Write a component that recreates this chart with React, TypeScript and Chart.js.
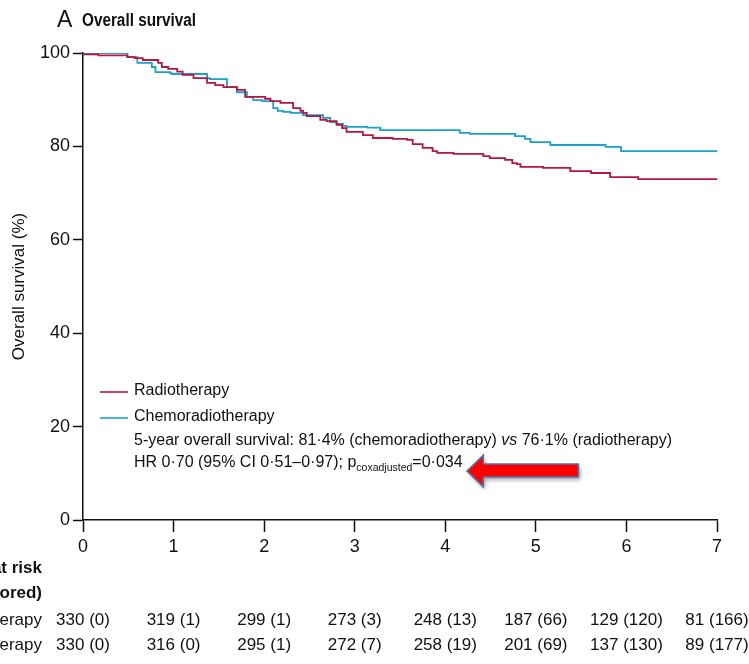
import React, { useEffect, useRef } from "react";
import { Chart, registerables } from "chart.js";

Chart.register(...registerables);

const FONT = "'Liberation Sans Narrow', 'Liberation Sans', Arial, sans-serif";

// Kaplan-Meier step data (years, % surviving)
const radTime = [0, 0.17, 0.49, 0.57, 0.66, 0.83, 0.87, 0.94, 1.04, 1.1, 1.22, 1.37, 1.46, 1.55, 1.7, 1.79, 2.01, 2.07, 2.18, 2.32, 2.4, 2.43, 2.47, 2.62, 2.69, 2.8, 2.86, 2.91, 3.09, 3.2, 3.42, 3.58, 3.64, 3.75, 3.86, 3.91, 4.09, 4.42, 4.49, 4.66, 4.74, 4.79, 4.83, 5.08, 5.38, 5.61, 5.82, 6.13, 6.27, 7.0];
const radSurv = [100, 99.7, 99.5, 99.1, 98.9, 98.5, 97.9, 97.0, 96.6, 96.0, 95.3, 94.6, 93.6, 93.1, 92.7, 92.1, 90.6, 90.2, 89.7, 89.3, 88.2, 87.6, 87.2, 86.5, 85.7, 85.4, 84.6, 83.9, 83.1, 82.4, 81.8, 81.6, 81.4, 80.5, 79.7, 79.0, 78.6, 78.4, 77.9, 77.5, 77.1, 76.4, 76.2, 75.6, 75.4, 74.7, 74.3, 73.4, 73.0, 73.0];

const chemoTime = [0, 0.49, 0.6, 0.76, 0.8, 0.96, 0.98, 1.37, 1.4, 1.59, 1.7, 1.81, 1.88, 1.98, 2.1, 2.15, 2.21, 2.29, 2.43, 2.65, 2.73, 2.8, 2.87, 2.91, 3.14, 3.28, 4.16, 4.27, 4.77, 4.88, 4.94, 5.16, 5.77, 5.94, 6.8, 7.0];
const chemoSurv = [100, 100, 99.1, 97.9, 97.0, 95.9, 95.7, 95.5, 94.6, 94.4, 92.7, 91.6, 90.6, 89.9, 89.7, 88.2, 87.6, 87.4, 87.2, 86.7, 86.1, 85.2, 84.8, 84.4, 84.2, 84.0, 83.5, 82.9, 82.7, 82.2, 81.6, 80.9, 80.3, 79.9, 79.0, 79.0];

const timeTicks = [0, 1, 2, 3, 4, 5, 6, 7];
const radAtRisk = [330, 319, 299, 273, 248, 187, 129, 81];
const radCensored = [0, 1, 1, 3, 13, 66, 120, 166];
const chemoAtRisk = [330, 316, 295, 272, 258, 201, 137, 89];
const chemoCensored = [0, 0, 1, 7, 19, 69, 130, 177];

const seriesNames = ["Radiotherapy", "Chemoradiotherapy"];
const RED = "#b8153f";
const BLUE = "#19a3cc";

const overlay = {
  id: "overlay",
  afterDraw(chart: any) {
    const ctx = chart.ctx as CanvasRenderingContext2D;
    const xs = chart.scales.x;
    const ys = chart.scales.y;
    const ca = chart.chartArea;
    ctx.save();
    ctx.fillStyle = "#111";
    ctx.textBaseline = "middle";
    ctx.textAlign = "left";

    // Title
    ctx.font = `23px ${FONT}`;
    ctx.fillText("A", 57, 21);
    ctx.save();
    ctx.translate(82, 21);
    ctx.scale(0.85, 1);
    ctx.font = `bold 18px ${FONT}`;
    ctx.fillText("Overall survival", 0, 0);
    ctx.restore();

    // Legend
    const lx0 = ca.left + 17;
    const lx1 = ca.left + 45;
    const tx = ca.left + 51;
    const rows = [ca.top + 338, ca.top + 364, ca.top + 388, ca.top + 410];
    const F = 16;
    ctx.lineWidth = 1.6;
    ctx.strokeStyle = RED;
    ctx.beginPath(); ctx.moveTo(lx0, rows[0] + 1); ctx.lineTo(lx1, rows[0] + 1); ctx.stroke();
    ctx.strokeStyle = BLUE;
    ctx.beginPath(); ctx.moveTo(lx0, rows[1] + 1); ctx.lineTo(lx1, rows[1] + 1); ctx.stroke();
    ctx.font = `${F}px ${FONT}`;
    ctx.fillText(seriesNames[0], tx, rows[0]);
    ctx.fillText(seriesNames[1], tx, rows[1]);

    let x = tx;
    const s1 = "5-year overall survival: 81·4% (chemoradiotherapy) ";
    ctx.fillText(s1, x, rows[2]); x += ctx.measureText(s1).width;
    ctx.font = `italic ${F}px ${FONT}`;
    ctx.fillText("vs", x, rows[2]); x += ctx.measureText("vs").width;
    ctx.font = `${F}px ${FONT}`;
    ctx.fillText(" 76·1% (radiotherapy)", x, rows[2]);

    x = tx;
    const h1 = "HR 0·70 (95% CI 0·51–0·97); p";
    ctx.fillText(h1, x, rows[3]); x += ctx.measureText(h1).width;
    ctx.font = `10.5px ${FONT}`;
    ctx.fillText("coxadjusted", x, rows[3] + 5); x += ctx.measureText("coxadjusted").width;
    ctx.font = `${F}px ${FONT}`;
    ctx.fillText("=0·034", x, rows[3]);

    // Arrow annotation
    const xT = xs.getPixelForValue(4.24);
    const xB = xs.getPixelForValue(4.42);
    const xE = xs.getPixelForValue(5.47);
    const yM = ys.getPixelForValue(10.5);
    const yHT = ys.getPixelForValue(13.9);
    const yHB = ys.getPixelForValue(7.1);
    const yST = ys.getPixelForValue(12.0);
    const ySB = ys.getPixelForValue(9.2);
    const arrowPath = () => {
      ctx.beginPath();
      ctx.moveTo(xT, yM);
      ctx.lineTo(xB, yHT);
      ctx.lineTo(xB, yST);
      ctx.lineTo(xE, yST);
      ctx.lineTo(xE, ySB);
      ctx.lineTo(xB, ySB);
      ctx.lineTo(xB, yHB);
      ctx.closePath();
    };
    ctx.save();
    ctx.shadowColor = "rgba(0,0,0,0.35)";
    ctx.shadowBlur = 4;
    ctx.shadowOffsetX = 2;
    ctx.shadowOffsetY = 3;
    arrowPath();
    ctx.fillStyle = "#ff0000";
    ctx.fill();
    ctx.restore();
    arrowPath();
    ctx.lineWidth = 1.6;
    ctx.strokeStyle = "#4a76b0";
    ctx.stroke();

    // Number at risk table
    ctx.fillStyle = "#111";
    const labelRight = 42;
    ctx.textAlign = "right";
    ctx.font = `bold 17px ${FONT}`;
    ctx.fillText("Number at risk", labelRight, 568);
    ctx.fillText("(censored)", labelRight, 593);
    ctx.font = `17px ${FONT}`;
    ctx.fillText(seriesNames[0], labelRight, 620);
    ctx.fillText(seriesNames[1], labelRight, 645);
    ctx.textAlign = "center";
    timeTicks.forEach((t, i) => {
      const px = xs.getPixelForValue(t);
      ctx.fillText(`${radAtRisk[i]} (${radCensored[i]})`, px, 620);
      ctx.fillText(`${chemoAtRisk[i]} (${chemoCensored[i]})`, px, 645);
    });
    ctx.restore();
  },
};

export default function App() {
  const ref = useRef<HTMLCanvasElement>(null);
  useEffect(() => {
    if (!ref.current) return;
    const chart = new Chart(ref.current, {
      type: "line",
      data: {
        datasets: [
          {
            label: seriesNames[0],
            data: radTime.map((t, i) => ({ x: t, y: radSurv[i] })),
            borderColor: RED,
            borderWidth: 1.8,
            stepped: "after",
            pointRadius: 0,
            fill: false,
          },
          {
            label: seriesNames[1],
            data: chemoTime.map((t, i) => ({ x: t, y: chemoSurv[i] })),
            borderColor: BLUE,
            borderWidth: 1.8,
            stepped: "after",
            pointRadius: 0,
            fill: false,
          },
        ],
      },
      options: {
        animation: false,
        responsive: true,
        maintainAspectRatio: false,
        layout: { padding: { top: 53, right: 32, left: 0, bottom: 0 } },
        plugins: { legend: { display: false }, tooltip: { enabled: false }, title: { display: false } },
        scales: {
          x: {
            type: "linear",
            min: 0,
            max: 7,
            afterFit: (s: any) => { s.height = 144; },
            afterBuildTicks: (s: any) => { s.ticks = timeTicks.map((v) => ({ value: v })); },
            ticks: { color: "#111", font: { family: FONT, size: 18 }, padding: 4 },
            grid: { drawOnChartArea: false, drawTicks: true, tickLength: 12, tickColor: "#111", tickWidth: 1.5 },
            border: { display: true, color: "#111", width: 1.5 },
          },
          y: {
            min: 0,
            max: 100,
            afterFit: (s: any) => { s.width = 83; },
            ticks: { stepSize: 20, color: "#111", font: { family: FONT, size: 18 }, padding: 3 },
            grid: { drawOnChartArea: false, drawTicks: true, tickLength: 10, tickColor: "#111", tickWidth: 1.5 },
            border: { display: true, color: "#111", width: 1.5 },
            title: {
              display: true,
              text: "Overall survival (%)",
              color: "#111",
              font: { family: FONT, size: 17 },
              padding: { top: 9, bottom: 0 },
            },
          },
        },
      },
      plugins: [overlay],
    });
    return () => chart.destroy();
  }, []);
  return (
    <div style={{ position: "fixed", left: 0, top: 0, width: 749, height: 664, background: "#fff" }}>
      <canvas ref={ref} />
    </div>
  );
}
